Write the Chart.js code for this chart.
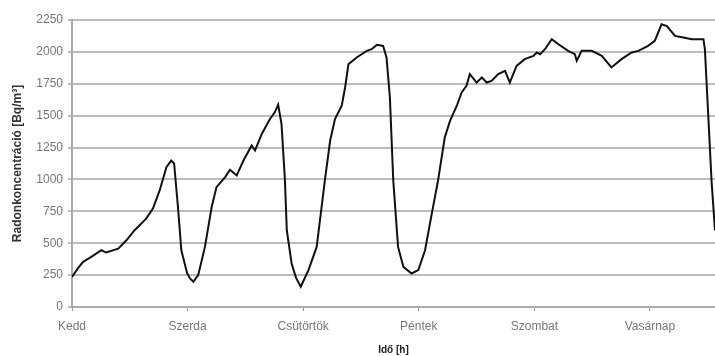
<!DOCTYPE html>
<html>
<head>
<meta charset="utf-8">
<script src="https://cdn.jsdelivr.net/npm/chart.js@4/dist/chart.umd.min.js"></script>
<style>
html,body{margin:0;padding:0;background:#fff;}
#wrap{width:715px;height:356px;position:relative;}
</style>
</head>
<body>
<div id="wrap"><canvas id="c" width="715" height="356"></canvas></div>
<script>
// Day tick labels (every 24 h)
const dayLabels = ['Kedd','Szerda','Csütörtök','Péntek','Szombat','Vasárnap'];
// Time in hours since Tuesday 0:00
const hours = [0,1.25,2.3,4.0,6.1,7.1,9.6,11.3,13.0,15.4,16.8,18.2,19.6,20.6,21.2,22.0,22.7,23.9,24.5,25.2,26.2,27.6,29.0,30.0,31.8,32.8,34.2,35.6,37.3,38.0,39.4,41.1,42.1,42.8,43.5,44.2,44.6,45.6,46.5,47.5,49.1,50.8,52.5,53.6,54.6,56.0,56.7,57.4,59.1,61.2,62.2,63.3,64.6,65.3,66.0,66.7,67.7,68.8,70.5,71.9,73.3,74.7,76.0,77.4,78.5,79.9,80.9,81.9,82.6,84.0,85.1,86.1,87.1,88.5,89.9,90.9,92.3,94.0,95.8,96.5,97.2,98.2,99.6,101.0,103.0,104.4,104.8,105.8,107.9,110.0,112.0,114.1,116.2,117.6,119.6,121.0,122.4,123.5,125.2,126.9,128.7,131.1,131.4,132.1,132.8,133.5];
// Radon concentration [Bq/m3]
const radon = [235,305,354,393,445,427,458,523,602,693,771,914,1096,1148,1125,784,445,265,224,198,250,471,784,940,1018,1076,1031,1148,1266,1227,1357,1474,1526,1586,1435,1000,600,341,230,159,289,471,992,1305,1474,1578,1721,1904,1956,2008,2021,2055,2047,1956,1643,992,471,315,263,289,445,732,992,1330,1461,1578,1682,1734,1826,1760,1799,1760,1773,1826,1851,1760,1890,1943,1969,1995,1982,2021,2099,2060,2008,1982,1930,2008,2008,1969,1878,1943,1995,2008,2047,2086,2216,2203,2125,2112,2099,2099,2021,1500,979,600];

const pts = hours.map((h,i)=>({x:h,y:radon[i]}));
const tickFont = { family: 'Liberation Sans, Arial', size: 12 };

new Chart(document.getElementById('c'), {
  type: 'line',
  data: { datasets: [{
    data: pts,
    borderColor: '#111',
    borderWidth: 2,
    pointRadius: 0,
    tension: 0,
    fill: false
  }]},
  options: {
    responsive: false,
    animation: false,
    plugins: { legend: {display:false}, tooltip: {enabled:false} },
    layout: { padding: { top: 20, right: 0, left: 0, bottom: 0 } },
    scales: {
      x: {
        type: 'linear',
        min: 0,
        max: 133.5,
        afterBuildTicks: (s) => { s.ticks = [0,24,48,72,96,120].map(v=>({value:v})); },
        afterFit: (s) => { s.height = 49; },
        ticks: {
          callback: (v) => dayLabels[Math.round(v/24)],
          color: '#777',
          font: tickFont,
          maxRotation: 0,
          autoSkip: false,
          padding: 8
        },
        grid: { display: true, drawOnChartArea: false, drawTicks: true, tickLength: 4, color: '#999' },
        border: { display: true, color: '#aaa', width: 2 },
        title: {
          display: true,
          text: 'Idő [h]',
          color: '#222',
          font: { family: 'Liberation Sans, Arial', size: 10, weight: 'bold' },
          padding: { top: 0, bottom: 0 }
        }
      },
      y: {
        min: 0,
        max: 2250,
        afterFit: (s) => { s.width = 72; },
        ticks: {
          stepSize: 250,
          color: '#777',
          font: tickFont,
          padding: 5,
          callback: (v) => String(v)
        },
        grid: { display: true, drawOnChartArea: true, color: '#bcbcbc', lineWidth: 2, tickLength: 4, drawTicks: true },
        border: { display: true, color: '#aaa', width: 2 },
        title: {
          display: true,
          text: 'Radonkoncentráció [Bq/m³]',
          color: '#333',
          font: { family: 'Liberation Sans, Arial', size: 12, weight: 'bold' },
          padding: { top: 10, bottom: 2 }
        }
      }
    }
  }
});
</script>
</body>
</html>
